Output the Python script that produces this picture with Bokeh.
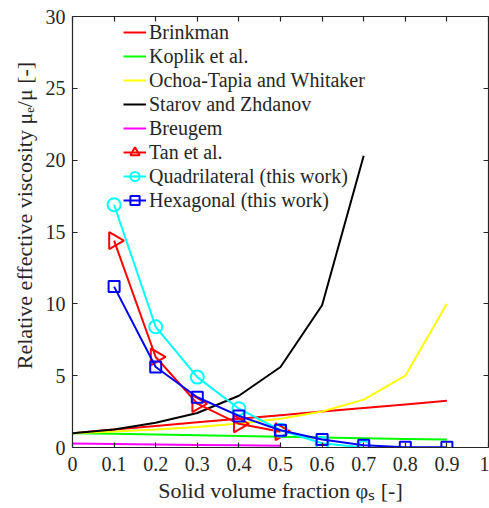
import math
from bokeh.plotting import figure
from bokeh.models import LinearAxis, FixedTicker, Legend, LegendItem, Range1d, CustomJSTickFormatter
from bokeh.embed import file_html
from bokeh.resources import INLINE

# ---- data ----
phi = [0.0, 0.1, 0.2, 0.3, 0.4, 0.5, 0.6, 0.7, 0.8, 0.9]
brinkman = [1.0, 1.25, 1.5, 1.75, 2.0, 2.25, 2.5, 2.75, 3.0, 3.25]
koplik = [1.0, 0.95, 0.9, 0.85, 0.8, 0.75, 0.7, 0.65, 0.6, 0.55]
ochoa = [1.0, 1.11, 1.25, 1.43, 1.67, 2.0, 2.5, 3.33, 5.0, 10.0]
phi_starov = [0.0, 0.1, 0.2, 0.3, 0.4, 0.5, 0.6, 0.7]
starov = [1.0, 1.25, 1.72, 2.4, 3.6, 5.6, 9.9, 20.3]
phi_breugem = [0.0, 0.1, 0.2, 0.3, 0.4, 0.5]
breugem = [0.27, 0.24, 0.21, 0.18, 0.15, 0.12]
phi_tan = [0.1, 0.2, 0.3, 0.4, 0.5]
tan = [14.4, 6.3, 3.05, 1.65, 1.1]
phi_quad = [0.1, 0.2, 0.3, 0.4, 0.5, 0.6, 0.7]
quad = [16.9, 8.4, 4.9, 2.7, 1.2, 0.3, 0.0]
phi_hex = [0.1, 0.2, 0.3, 0.4, 0.5, 0.6, 0.7, 0.8, 0.9]
hexa = [11.2, 5.6, 3.5, 2.2, 1.2, 0.56, 0.15, 0.02, 0.02]

x_ticks = [0, 0.1, 0.2, 0.3, 0.4, 0.5, 0.6, 0.7, 0.8, 0.9, 1.0]
x_tick_labels = ["0", "0.1", "0.2", "0.3", "0.4", "0.5", "0.6", "0.7", "0.8", "0.9", "1"]
y_ticks = [0, 5, 10, 15, 20, 25, 30]
y_tick_labels = ["0", "5", "10", "15", "20", "25", "30"]

FONT = "Liberation Serif"
AX = "#262626"

p = figure(width=489, height=508, output_backend="svg", toolbar_location=None,
           x_range=Range1d(0, 1), y_range=Range1d(0, 30),
           min_border_left=72, min_border_right=1, min_border_top=16, min_border_bottom=61)
p.xgrid.visible = False
p.ygrid.visible = False
p.outline_line_color = None
p.background_fill_color = "white"

def style_axis(ax, ticks, labels, show_labels=True):
    ax.ticker = FixedTicker(ticks=ticks)
    ax.axis_line_color = AX
    ax.axis_line_width = 1.2
    ax.major_tick_line_color = AX
    ax.major_tick_line_width = 1.2
    ax.major_tick_in = 5
    ax.major_tick_out = 0
    ax.minor_tick_line_color = None
    ax.major_label_text_font = FONT
    ax.major_label_text_color = AX
    if show_labels:
        ax.major_label_overrides = {t: l for t, l in zip(ticks, labels)}
        ax.major_label_text_font_size = "20px"
    else:
        ax.formatter = CustomJSTickFormatter(code="return '';")
        ax.major_label_standoff = 0

style_axis(p.xaxis[0], x_ticks, x_tick_labels)
style_axis(p.yaxis[0], y_ticks, y_tick_labels)
p.xaxis[0].major_label_standoff = 9
p.yaxis[0].major_label_standoff = 7

p.xaxis[0].axis_label = "Solid volume fraction \u03c6\u209b [-]"
p.xaxis[0].axis_label_text_font = FONT
p.xaxis[0].axis_label_text_font_size = "22px"
p.xaxis[0].axis_label_text_font_style = "normal"
p.xaxis[0].axis_label_text_color = AX
p.xaxis[0].axis_label_standoff = 4

p.yaxis[0].axis_label = "\u2003\u2002Relative effective viscosity \u03bc\u2091/\u03bc [-]"
p.yaxis[0].axis_label_text_font = FONT
p.yaxis[0].axis_label_text_font_size = "22px"
p.yaxis[0].axis_label_text_font_style = "normal"
p.yaxis[0].axis_label_text_color = AX
p.yaxis[0].axis_label_standoff = 6

top = LinearAxis()
style_axis(top, x_ticks, x_tick_labels, show_labels=False)
p.add_layout(top, "above")
right = LinearAxis()
style_axis(right, y_ticks, y_tick_labels, show_labels=False)
p.add_layout(right, "right")

LW = 2
r1 = p.line(phi, brinkman, line_color="#FF0000", line_width=LW)
r2 = p.line(phi, koplik, line_color="#00FF00", line_width=LW)
r3 = p.line(phi, ochoa, line_color="#FFFF00", line_width=LW)
r4 = p.line(phi_starov, starov, line_color="#000000", line_width=LW)
r5 = p.line(phi_breugem, breugem, line_color="#FF00FF", line_width=LW)
r6l = p.line(phi_tan, tan, line_color="#FF0000", line_width=LW)
r6m = p.scatter(phi_tan, tan, marker="triangle", angle=-math.pi / 2, size=17,
                line_color="#FF0000", fill_color=None, line_width=LW)
r7l = p.line(phi_quad, quad, line_color="#00FFFF", line_width=LW)
r7m = p.scatter(phi_quad, quad, marker="circle", size=13,
                line_color="#00FFFF", fill_color=None, line_width=LW)
r8l = p.line(phi_hex, hexa, line_color="#0000FF", line_width=LW)
r8m = p.scatter(phi_hex, hexa, marker="square", size=11,
                line_color="#0000FF", fill_color=None, line_width=LW)

items = [
    LegendItem(label="Brinkman", renderers=[r1]),
    LegendItem(label="Koplik et al.", renderers=[r2]),
    LegendItem(label="Ochoa-Tapia and Whitaker", renderers=[r3]),
    LegendItem(label="Starov and Zhdanov", renderers=[r4]),
    LegendItem(label="Breugem", renderers=[r5]),
    LegendItem(label="Tan et al.", renderers=[r6l, r6m], index=0),
    LegendItem(label="Quadrilateral (this work)", renderers=[r7l, r7m]),
    LegendItem(label="Hexagonal (this work)", renderers=[r8l, r8m]),
]
legend = Legend(items=items, location=(51, 235), padding=0, margin=0,
                glyph_width=23, glyph_height=24, label_height=24, spacing=0,
                label_standoff=3, label_text_font=FONT, label_text_font_size="20px",
                label_text_color=AX, border_line_color=None, background_fill_alpha=0)
p.add_layout(legend)

open("out.html", "w").write(file_html(p, INLINE))
